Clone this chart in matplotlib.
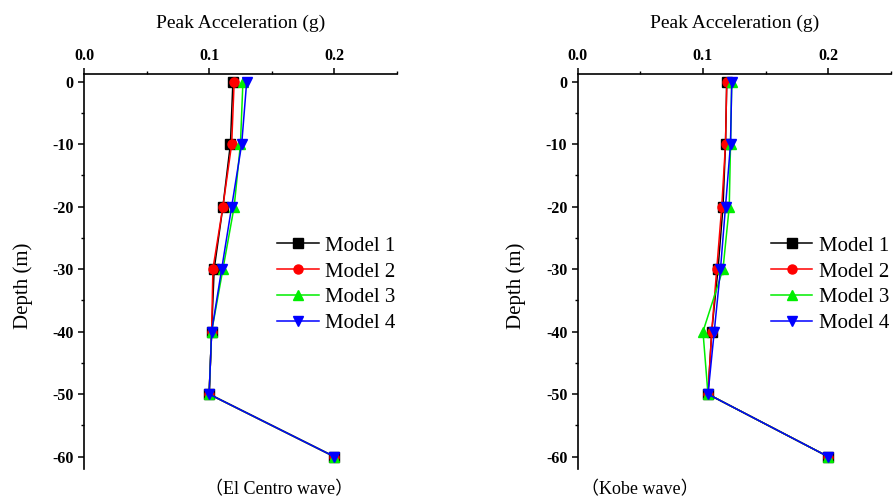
import matplotlib
matplotlib.use('Agg')
import matplotlib.pyplot as plt
from matplotlib.ticker import MultipleLocator

plt.rcParams['axes.unicode_minus'] = False

# Depth of measuring points (m)
depth = [0, -10, -20, -30, -40, -50, -60]

# Peak acceleration (g), El Centro wave
elcentro_m1 = [0.119, 0.117, 0.111, 0.104, 0.102, 0.100, 0.200]
elcentro_m2 = [0.120, 0.118, 0.111, 0.103, 0.102, 0.100, 0.200]
elcentro_m3 = [0.127, 0.125, 0.120, 0.111, 0.102, 0.100, 0.200]
elcentro_m4 = [0.130, 0.126, 0.118, 0.110, 0.102, 0.100, 0.200]

# Peak acceleration (g), Kobe wave
kobe_m1 = [0.119, 0.118, 0.116, 0.112, 0.107, 0.104, 0.200]
kobe_m2 = [0.119, 0.118, 0.115, 0.111, 0.107, 0.104, 0.200]
kobe_m3 = [0.123, 0.122, 0.121, 0.116, 0.100, 0.104, 0.200]
kobe_m4 = [0.123, 0.122, 0.118, 0.114, 0.109, 0.104, 0.200]

labels = ['Model 1', 'Model 2', 'Model 3', 'Model 4']
colors = ['black', 'red', '#00ee00', 'blue']
markers = ['s', 'o', '^', 'v']

serif = ['Liberation Serif', 'DejaVu Serif']
caption_font = ['Liberation Serif', 'Noto Sans CJK SC']

fig = plt.figure(figsize=(8.93, 4.97), dpi=100)
ax1 = fig.add_axes([0.094, 0.056, 0.3505, 0.795])
ax2 = fig.add_axes([0.647, 0.056, 0.3505, 0.795])

panels = [
    (ax1, [elcentro_m1, elcentro_m2, elcentro_m3, elcentro_m4], '（El Centro wave）', 0.313),
    (ax2, [kobe_m1, kobe_m2, kobe_m3, kobe_m4], '（Kobe wave）', 0.717),
]

for ax, series, caption, cx in panels:
    for vals, lab, c, m in zip(series, labels, colors, markers):
        ax.plot(vals, depth, color=c, marker=m, markersize=6.5, linewidth=1.1,
                markeredgecolor=c, label=lab)

    ax.set_xlim(0, 0.25)
    ax.set_ylim(-62, 1.2)
    ax.xaxis.set_ticks_position('top')
    ax.xaxis.set_label_position('top')
    for s in ['right', 'bottom']:
        ax.spines[s].set_visible(False)
    for s in ['top', 'left']:
        ax.spines[s].set_linewidth(1.2)
    ax.xaxis.set_minor_locator(MultipleLocator(0.05))
    ax.yaxis.set_major_locator(MultipleLocator(10))
    ax.yaxis.set_minor_locator(MultipleLocator(5))
    ax.set_xticks([0.0, 0.1, 0.2])
    ax.set_xticklabels(['0.0', '0.1', '0.2'])
    ax.tick_params(which='major', direction='out', length=4, width=1.1)
    ax.tick_params(which='minor', direction='out', length=2.5, width=1.0)
    for t in ax.get_xticklabels() + ax.get_yticklabels():
        t.set_fontfamily(serif)
        t.set_fontweight('bold')
        t.set_fontsize(11.5)

    ax.set_xlabel('Peak Acceleration (g)', fontsize=14, family=serif, labelpad=14)
    ax.set_ylabel('Depth (m)', fontsize=15, family=serif)
    ax.yaxis.set_label_coords(-0.164, 0.463)

    ax.legend(loc='center left', bbox_to_anchor=(0.59, 0.467), frameon=False,
              prop={'family': serif, 'size': 15}, handlelength=2.0,
              handletextpad=0.3, labelspacing=0.3, numpoints=1,
              borderaxespad=0.0)

    fig.text(cx, 0.014, caption, ha='center', va='center', fontsize=13, family=caption_font)

plt.savefig('out.png', dpi=100, facecolor='white')
